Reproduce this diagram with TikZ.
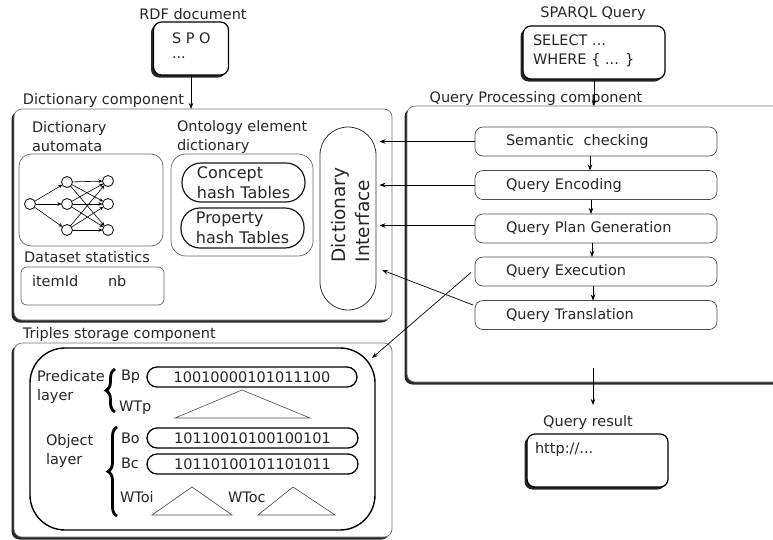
\documentclass[tikz,border=0pt]{standalone}
\usepackage{fontspec}
\setmainfont{DejaVu Sans}
\usetikzlibrary{arrows.meta,decorations.pathreplacing,shadows,calc}
\begin{document}
\begin{tikzpicture}[x=1pt,y=-1pt,
  every node/.style={inner sep=0pt, outer sep=0pt, text=black!85, font=\fontsize{14.5}{19}\selectfont},
  arr/.style={-{Stealth[length=6pt,width=4.5pt]}, line width=0.7pt},
  sarr/.style={-{Stealth[length=4pt,width=3.5pt]}, line width=0.6pt},
  shad/.style={drop shadow={shadow xshift=-2.5pt, shadow yshift=-2.5pt, opacity=0.85, fill=black}},
  bigbox/.style={draw=black!55, line width=0.7pt, fill=white, rounded corners=8pt, shad},
  docbox/.style={draw=black, line width=1.2pt, fill=white, rounded corners=8pt, shad},
  graybox/.style={draw=black!60, line width=0.7pt, fill=white},
  qbox/.style={draw=black!70, line width=0.7pt, rounded corners=8pt, minimum width=242pt, minimum height=29pt, text width=180pt, inner xsep=31pt, align=left},
  pill/.style={draw=black, line width=1.3pt, rounded corners=10pt},
  hpill/.style={draw=black!90, line width=1.2pt, rounded corners=19pt, align=left, font=\fontsize{16}{20}\selectfont},
  anode/.style={circle, draw=black, line width=0.8pt, minimum size=11pt},
  tri/.style={draw=black!70, line width=0.6pt},
  brc/.style={line width=2.8pt, decorate, decoration={brace, amplitude=9pt}}
]
\useasboundingbox (0,0) rectangle (773,539);

% ---- top documents
\node (rdflbl) at (193,14) {RDF document};
\node[docbox, minimum width=75pt, minimum height=53pt] (rdf) at (191,48.5) {};
\node[anchor=west] (spo) at (172,38) {S P O};
\node[anchor=west] (dots1) at (172,58) {...};

\node (sparqllbl) at (593,14) {SPARQL Query};
\node[docbox, minimum width=142pt, minimum height=53pt] (sparql) at (594,52.5) {};
\node[anchor=west, align=left] (sel) at (533,51) {SELECT ...\\WHERE \{ ... \}};

% ---- big containers
\node[anchor=west] (dictlbl) at (23,100) {Dictionary component};
\node[bigbox, minimum width=378pt, minimum height=211pt] (dict) at (203,214.5) {};

\node[anchor=west] (triplbl) at (23,334) {Triples storage component};
\node[bigbox, minimum width=378pt, minimum height=194pt] (trip) at (203,440) {};

\node (qplbl) at (536,98) {Query Processing component};
\node[bigbox, minimum width=393pt, minimum height=276pt] (qp) at (603.5,244) {};

% ---- dictionary internals
\node[anchor=west, align=left] (dalbl) at (32,137) {Dictionary\\automata};
\node[graybox, rounded corners=12pt, minimum width=144pt, minimum height=92pt] (dabox) at (91,200) {};
\node[anchor=west] (dslbl) at (24,257) {Dataset statistics};
\node[graybox, rounded corners=6pt, minimum width=143pt, minimum height=38pt] (dsbox) at (92.5,286) {};
\node[anchor=west] (item) at (32,281) {itemId};
\node[anchor=west] (nb) at (108,281) {nb};

\node[anchor=west, align=left] (oelbl) at (177,137) {Ontology element\\dictionary};
\node[graybox, rounded corners=15pt, minimum width=142pt, minimum height=102pt] (oebox) at (242,205) {};
\node[hpill, minimum width=123pt, minimum height=39pt] (concept) at (243.5,182.5) {Concept\\hash Tables};
\node[hpill, minimum width=123pt, minimum height=40pt] (property) at (242.5,228) {Property\\hash Tables};

\node[draw=black!80, line width=0.8pt, rounded corners=28pt, minimum width=56pt, minimum height=183pt] (di) at (348,218.5) {};
\node[rotate=90, align=left, font=\fontsize{18.5}{24}\selectfont] (dilbl) at (351,215) {Dictionary\\Interface};

% automata graph
\node[anode] (a0) at (30,204) {};
\node[anode] (m1) at (67,182) {};
\node[anode] (m2) at (67,204) {};
\node[anode] (m3) at (67,230) {};
\node[anode] (r1) at (108,181) {};
\node[anode] (r2) at (108,204) {};
\node[anode] (r3) at (108,230) {};
\foreach \m in {m1,m2,m3} \draw[sarr] (a0) -- (\m);
\foreach \m in {m1,m2,m3} {\foreach \r in {r1,r2,r3} {\draw[sarr] (\m) -- (\r);}}

% ---- query processing internals
\node[qbox] (sem) at (596,141.5) {Semantic\ \ checking};
\node[qbox] (enc) at (596,185) {Query Encoding};
\node[qbox] (qpg) at (596,228.5) {Query Plan Generation};
\node[qbox] (qe) at (596,271.5) {Query Execution};
\node[qbox] (qt) at (596,315) {Query Translation};
\draw[arr] ([xshift=-6pt]sem.south) -- ([xshift=-6pt]enc.north);
\draw[arr] ([xshift=-5pt]enc.south) -- ([xshift=-5pt]enc.south |- qpg.north);
\draw[arr] ([xshift=-4pt]qpg.south) -- ([xshift=-4pt]qpg.south |- qe.north);
\draw[arr] ([xshift=-3pt]qe.south) -- ([xshift=-3pt]qe.south |- qt.north);

\draw[arr, shorten >=3.5pt] (sem.west) -- (sem.west -| di.east);
\draw[arr, shorten >=3.5pt] (enc.west) -- (enc.west -| di.east);
\draw[arr, shorten >=3.5pt] ([yshift=3pt]qpg.west) -- ([yshift=3pt]qpg.west -| di.east);
\coordinate (dien) at (382,270);
\draw[arr] ([xshift=-2pt,yshift=10pt]qt.west) -- (dien);
\coordinate (tripin) at (372,358);
\draw[arr] ([xshift=-4pt,yshift=-1pt]qe.west) -- (tripin);

% ---- top arrows
\draw[arr] (rdf.south) -- (rdf.south |- dict.north);
\draw[arr] (sparql.south) -- (sparql.south |- qp.north);

% ---- query result
\coordinate (qpout) at (593,368);
\coordinate (qrtip) at (593,405);
\draw[arr] (qpout) -- (qrtip);
\node (qrlbl) at (588,422) {Query result};
\node[docbox, minimum width=141pt, minimum height=53pt] (qr) at (597.5,460.5) {};
\node[anchor=west] (http) at (535,449) {http://...};

% ---- triples storage internals
\node[draw=black, line width=1.4pt, rounded corners=35pt, minimum width=345pt, minimum height=182pt] (inner) at (202.5,439) {};
\node[anchor=west, align=left] (predlbl) at (37,387) {Predicate\\layer};
\draw[brc] (115,412) -- (115,369);
\node[anchor=west] (bp) at (121,377) {Bp};
\node[pill, minimum width=210pt, minimum height=20pt] (bpv) at (252,377) {10010000101011100};
\node[anchor=west] (wtp) at (119,408) {WTp};
\draw[tri] (175,418) -- (242,390) -- (310,418) -- cycle;

\node[anchor=west, align=left] (objlbl) at (46,451) {Object\\layer};
\draw[brc] (117,516) -- (117,427);
\node[anchor=west] (bo) at (121,438) {Bo};
\node[pill, minimum width=211pt, minimum height=20pt] (bov) at (252.5,438) {10110010100100101};
\node[anchor=west] (bc) at (121,463) {Bc};
\node[pill, minimum width=211pt, minimum height=20pt] (bcv) at (252.5,464) {10110100101101011};
\node[anchor=west] (wtoi) at (120,497) {WToi};
\draw[tri] (152,515) -- (192,487) -- (232,515) -- cycle;
\node[anchor=west] (wtoc) at (228,497) {WToc};
\draw[tri] (258,515) -- (293,487) -- (335,515) -- cycle;
\end{tikzpicture}
\end{document}
